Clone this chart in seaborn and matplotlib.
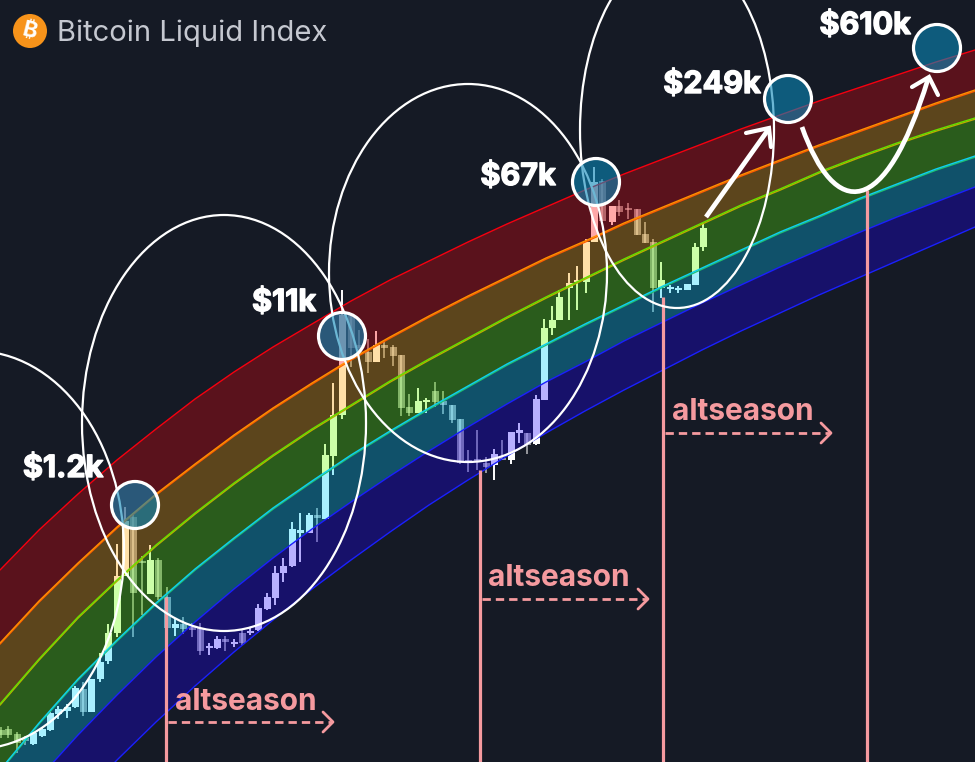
import matplotlib
matplotlib.use("Agg")
import matplotlib.pyplot as plt
import matplotlib.patheffects as pe
from matplotlib.patches import Ellipse, PathPatch, Polygon
from matplotlib.path import Path
import numpy as np
import seaborn as sns

# Rainbow band boundaries, chart coordinates on a common x grid
band_x = [0, 39, 78, 117, 156, 195, 234, 273, 312, 351, 390, 429, 468, 507, 546, 585, 624, 663, 702, 741, 780, 819, 858, 897, 936, 975]
red_y = [570, 530, 494, 460, 429, 399, 372, 347, 324, 301, 280, 261, 242, 224, 207, 190, 174, 159, 144, 129, 115, 101, 88, 75, 62, 50]
orange_y = [643, 601, 563, 527, 494, 464, 435, 408, 383, 359, 337, 316, 296, 277, 258, 241, 223, 207, 191, 175, 160, 145, 131, 117, 103, 90]
green_y = [704, 659, 617, 580, 545, 513, 483, 455, 429, 405, 381, 359, 338, 317, 297, 278, 259, 241, 223, 205, 189, 172, 157, 143, 130, 118]
cyan_y = [770, 723, 679, 640, 603, 569, 538, 508, 481, 455, 431, 408, 386, 364, 344, 324, 305, 286, 268, 250, 232, 216, 199, 184, 169, 156]
blue_y = [824, 778, 735, 695, 657, 622, 589, 558, 529, 502, 476, 451, 427, 404, 382, 362, 341, 322, 303, 285, 267, 250, 233, 217, 202, 187]
deep_y = [885, 841, 800, 760, 722, 686, 652, 620, 589, 560, 532, 505, 480, 456, 433, 411, 390, 370, 350, 331, 313, 295, 278, 261, 244, 227]

# Candles: horizontal position, open, close, low, high in chart coordinates
candle_x = [1, 8, 17, 25, 33, 42, 50, 58, 67, 75, 83, 91, 100, 108, 117, 125, 133, 142, 150, 158,
            167, 175, 183, 192, 200, 209, 217, 225, 234, 242, 250, 258, 267, 275, 283, 292, 300, 309, 317, 325,
            333, 342, 351, 359, 368, 376, 384, 393, 401, 409, 418, 426, 435, 443, 452, 460, 468, 477, 486, 494,
            502, 511, 519, 527, 536, 544, 552, 559, 569, 577, 586, 594, 602, 612, 619, 628, 637, 645, 653, 661,
            670, 678, 687, 695, 703]
candle_open = [730, 729, 734, 738, 744, 736, 730, 714, 711, 707, 689, 712, 679, 661, 633, 576, 517, 561, 594, 560,
               597, 628, 624, 627, 628, 648, 648, 639, 644, 633, 633, 630, 609, 598, 573, 566, 533, 533, 515, 519,
               456, 415, 315, 345, 352, 362, 345, 347, 355, 407, 413, 402, 391, 401, 405, 419, 460, 459, 463, 465,
               458, 460, 433, 433, 444, 400, 328, 320, 288, 282, 282, 242, 181, 222, 206, 208, 209, 234, 242, 288,
               289, 290, 290, 285, 247]
candle_close = [735, 735, 743, 741, 733, 729, 713, 709, 707, 688, 712, 679, 662, 633, 576, 521, 593, 563, 560, 597,
                628, 624, 629, 630, 651, 646, 639, 642, 642, 643, 631, 608, 597, 573, 566, 529, 530, 515, 518, 455,
                415, 315, 348, 348, 362, 345, 348, 356, 408, 413, 401, 400, 402, 405, 420, 463, 461, 461, 467, 454,
                460, 432, 430, 445, 399, 328, 320, 297, 283, 280, 242, 182, 221, 206, 212, 210, 235, 243, 288, 280,
                287, 288, 284, 247, 228]
candle_low = [738, 738, 753, 745, 745, 737, 731, 719, 718, 708, 716, 712, 682, 664, 637, 576, 637, 615, 594, 600,
              640, 636, 634, 637, 655, 655, 649, 651, 647, 645, 635, 631, 610, 605, 582, 567, 562, 533, 542, 519,
              475, 419, 367, 358, 373, 362, 358, 366, 416, 416, 413, 413, 407, 414, 423, 464, 472, 470, 473, 480,
              460, 464, 443, 454, 445, 400, 335, 320, 320, 310, 293, 242, 221, 225, 216, 219, 235, 243, 312, 298,
              293, 293, 290, 285, 251]
candle_high = [727, 726, 732, 736, 732, 728, 712, 706, 704, 686, 682, 679, 653, 624, 544, 507, 515, 556, 545, 558,
               587, 619, 617, 623, 623, 643, 636, 636, 639, 630, 628, 604, 593, 566, 558, 522, 513, 513, 508, 444,
               383, 290, 315, 330, 339, 331, 342, 345, 355, 394, 388, 398, 382, 391, 405, 419, 450, 430, 457, 449,
               440, 432, 423, 433, 395, 319, 306, 290, 273, 266, 239, 167, 179, 206, 200, 203, 209, 222, 239, 262,
               285, 286, 284, 243, 223]

# Cycle-top markers and their labels
marker_x = [135, 342, 596, 788, 937]
marker_y = [505, 336, 182, 99, 48]
price_labels = ["$1.2k", "$11k", "$67k", "$249k", "$610k"]
label_x = [63, 284, 518, 712, 865]
label_y = [469, 303, 177, 85, 26]

# Cycle ellipses: centre x, centre y, width, height
cycle_cx = [-25, 224, 468, 677]
cycle_cy = [550, 423, 273, 130]
cycle_w = [298, 284, 278, 194]
cycle_h = [398, 416, 378, 356]

# Altseason start lines and captions
season_x = [166, 480, 663, 867]
season_top = [597, 470, 297, 190]
caption_x = [175, 488, 672]
caption_y = [702, 578, 412]
caption_end = [333, 648, 831]
caption_arrow_y = [722, 599, 433]

BG = "#151a25"
PINK = "#f59a9f"

sns.set_theme(style="dark", rc={"figure.facecolor": BG, "axes.facecolor": BG})
plt.rcParams["font.family"] = ["Inter", "DejaVu Sans"]

fig = plt.figure(figsize=(9.75, 7.62), dpi=100)
ax = fig.add_axes([0, 0, 1, 1])
ax.set_xlim(0, 975)
ax.set_ylim(762, 0)
ax.set_axis_off()


def region(yt, yb, **kw):
    """Polygon between an upper and a lower boundary on the shared x grid."""
    pts = np.column_stack([np.r_[band_x, band_x[::-1]], np.r_[yt, yb[::-1]]])
    patch = Polygon(pts, closed=True, linewidth=0, **kw)
    ax.add_patch(patch)
    return patch


boundaries = [red_y, orange_y, green_y, cyan_y, blue_y, deep_y]
band_fill = ["#5a121c", "#5c451c", "#2a5c1c", "#10516a", "#17116a"]
candle_tint = ["#ffa8a8", "#ffe0a8", "#ccffa8", "#a8f0ff", "#b8b0ff"]

clips = [region([-20] * len(band_x), red_y, facecolor=BG, zorder=1)]
tints = ["#ffffff"]
for i, fill in enumerate(band_fill):
    clips.append(region(boundaries[i], boundaries[i + 1], facecolor=fill, zorder=1))
    tints.append(candle_tint[i])
clips.append(region(deep_y, [950] * len(band_x), facecolor=BG, zorder=1))
tints.append("#ffffff")

# Candle colour follows the band each part of the candle sits in
o = np.array(candle_open, float)
c = np.array(candle_close, float)
top = np.minimum(o, c)
height = np.maximum(np.abs(o - c), 1.8)
alphas = np.where(c < o, 1.0, 0.55)
for clip, tint in zip(clips, tints):
    for a in (1.0, 0.55):
        keep = alphas == a
        wicks = ax.vlines(np.array(candle_x)[keep], np.array(candle_high)[keep], np.array(candle_low)[keep],
                          color=tint, alpha=a, linewidth=1.4, zorder=2)
        wicks.set_clip_path(clip)
        bars = ax.bar(np.array(candle_x)[keep], height[keep], bottom=top[keep], width=7.0,
                      color=tint, alpha=a, linewidth=0, zorder=3)
        for b in bars:
            b.set_clip_path(clip)

# Boundary lines, some drawn as a pair of close strokes
line_styles = [[("#f5000f", 0.0)],
               [("#ff5a00", 1.2), ("#ff9000", 0.0)],
               [("#c0a800", 1.2), ("#66e000", 0.0)],
               [("#20c070", 1.2), ("#10d0f0", 0.0)],
               [("#1a20ff", 0.0)],
               [("#1a20ff", 0.0)]]
for by, strokes in zip(boundaries, line_styles):
    for colour, shift in strokes:
        sns.lineplot(x=band_x, y=np.array(by) + shift, color=colour, linewidth=1.0, ax=ax,
                     estimator=None, sort=False, zorder=4)

# Altseason markers
for sx, st in zip(season_x, season_top):
    ax.plot([sx, sx], [st, 770], color=PINK, lw=2.3, zorder=5, solid_capstyle="butt")
for sx, cx, cy, ce, ay in zip(season_x, caption_x, caption_y, caption_end, caption_arrow_y):
    ax.text(cx, cy, "altseason", color=PINK, fontsize=21.5, fontweight="bold", va="center", ha="left", zorder=7)
    ax.plot([sx + 2, ce - 2], [ay, ay], color=PINK, lw=2.0, ls=(0, (3.0, 1.8)), zorder=7)
    ax.plot([ce - 10, ce, ce - 10], [ay - 10, ay, ay + 10], color=PINK, lw=2.0, zorder=7)

# Cycle ellipses
for ex, ey, ew, eh in zip(cycle_cx, cycle_cy, cycle_w, cycle_h):
    ax.add_patch(Ellipse((ex, ey), ew, eh, facecolor="none", edgecolor="white", lw=1.6, zorder=8))

# Projected path arrows
ax.plot([706, 768], [217, 130], color="white", lw=3.4, zorder=9, solid_capstyle="butt")
ax.plot([746, 769, 771], [133, 128, 147], color="white", lw=3.0, zorder=9, solid_joinstyle="miter")
curve = Path([(802, 127), (835, 220), (885, 220), (928, 79)],
             [Path.MOVETO, Path.CURVE4, Path.CURVE4, Path.CURVE4])
ax.add_patch(PathPatch(curve, facecolor="none", edgecolor="white", lw=3.4, zorder=9, capstyle="butt"))
ax.plot([912, 929, 938], [87, 77, 95], color="white", lw=3.0, zorder=9, solid_joinstyle="miter")

# Cycle-top circles and price labels
for mx, my in zip(marker_x, marker_y):
    ax.add_patch(Ellipse((mx, my), 47, 47, facecolor=(0.04, 0.53, 0.72, 0.6), edgecolor="white", lw=2.3, zorder=10))
for lx, ly, text in zip(label_x, label_y, price_labels):
    ax.text(lx, ly, text, color="white", fontsize=22, fontweight="bold", ha="center", va="center", zorder=11,
            path_effects=[pe.withStroke(linewidth=1.0, foreground="white")])

# Header
ax.add_patch(Ellipse((30, 31), 34, 34, facecolor="#f7931a", edgecolor="none", zorder=11))
ax.text(30, 31, "\u20bf", color="white", fontsize=16, fontweight="bold", ha="center", va="center",
        rotation=-14, zorder=12)
ax.text(57, 33, "Bitcoin Liquid Index", color="#c5c8d0", fontsize=21, ha="left", va="center", zorder=12)

fig.savefig("out.png", dpi=100, facecolor=BG)
